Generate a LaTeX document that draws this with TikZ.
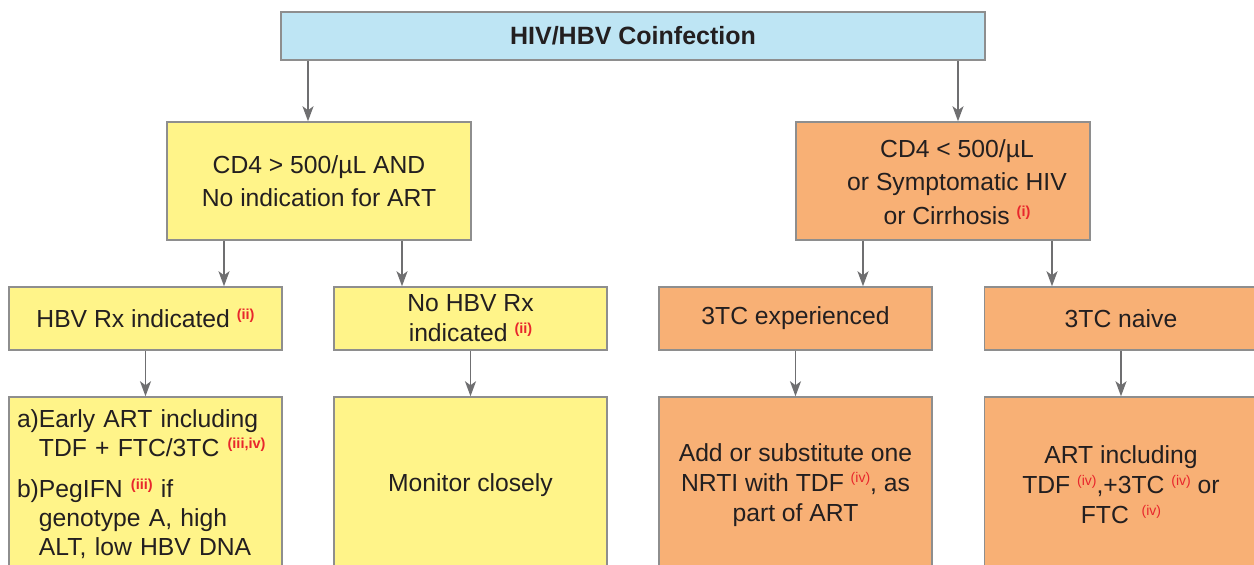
\documentclass[tikz,border=0pt]{standalone}
\usepackage{fontspec}
\setmainfont{Liberation Sans}
\usetikzlibrary{arrows.meta}
\definecolor{boxblue}{HTML}{BEE5F4}
\definecolor{boxyellow}{HTML}{FFF489}
\definecolor{boxorange}{HTML}{F8B075}
\definecolor{edgegray}{HTML}{8E8E8E}
\definecolor{arrgray}{HTML}{6F6F71}
\definecolor{txtdark}{HTML}{231F20}
\definecolor{notered}{HTML}{E8262C}
\newcommand{\rnote}[1]{\raisebox{8pt}{\textcolor{notered}{\fontsize{14.5}{14.5}\selectfont\bfseries #1}}}
\newcommand{\rnotel}[1]{\raisebox{8.5pt}{\textcolor{notered}{\fontsize{14}{14}\selectfont #1}}}
\tikzset{
  basebox/.style={draw=edgegray, line width=1.5pt, inner sep=0pt, text=txtdark,
    font=\fontsize{24.7}{33}\selectfont, align=center},
  bluebox/.style={basebox, fill=boxblue},
  ylbox/.style={basebox, fill=boxyellow},
  orbox/.style={basebox, fill=boxorange},
  rowthree/.style={minimum width=273pt, minimum height=63pt},
  rowfour/.style={minimum width=273pt, minimum height=176pt},
  plaintext/.style={inner sep=0pt, text=txtdark, align=center, font=\fontsize{24.7}{33.5}\selectfont},
  arr/.style={draw=arrgray, line width=1.5pt, -{Stealth[length=15pt,width=11pt,inset=4pt]}}
}
\begin{document}
\begin{tikzpicture}[x=1pt,y=-1pt]
\useasboundingbox (0,0) rectangle (1254,565);
\clip (0,0) rectangle (1254,565);
\fill[white] (0,0) rectangle (1254,565);

\node[bluebox, minimum width=704pt, minimum height=48pt, font=\fontsize{25}{30}\selectfont\bfseries] (top) at (633,36) {HIV/HBV Coinfection};

\node[ylbox, minimum width=304pt, minimum height=118pt] (hi) at (319,181) {CD4 > 500/µL AND\\No indication for ART};
\node[orbox, minimum width=294pt, minimum height=118pt] (lo) at (943,181) {};
\node[plaintext] (lotext) at (957,182) {CD4 < 500/µL\\or Symptomatic HIV\\or Cirrhosis \rnote{(i)}};

\node[ylbox, rowthree] (hbv) at (145.5,318.5) {HBV Rx indicated \rnote{(ii)}};
\node[ylbox, rowthree, font=\fontsize{24.7}{30}\selectfont] (nohbv) at (470.5,318.5) {No HBV Rx\\indicated \rnote{(ii)}};
\node[orbox, rowthree] (exp) at (795.5,318.5) {\raisebox{-1.5pt}{3TC experienced}};
\node[orbox, rowthree] (naive) at (1121,318.5) {\raisebox{-1.5pt}{3TC naive}};

\node[ylbox, rowfour, text width=257pt, align=left, font=\fontsize{24.7}{28.8}\selectfont] (rxa) at (145.5,485) {a)Early ART including\\\phantom{a)}TDF + FTC/3TC \rnote{(iii,iv)}\\[13pt]b)PegIFN \rnote{(iii)} if\\\phantom{a)}genotype A, high\\\phantom{a)}ALT, low HBV DNA};
\node[ylbox, rowfour] (mon) at (470.5,485) {Monitor closely};
\node[orbox, rowfour, font=\fontsize{24.7}{30}\selectfont] (add) at (795.5,485) {Add or substitute one\\NRTI with TDF \rnotel{(iv)}, as\\part of ART};
\node[orbox, rowfour, font=\fontsize{24.7}{30}\selectfont] (art) at (1121,485) {ART including\\TDF \rnotel{(iv)},+3TC \rnotel{(iv)} or\\FTC\hspace{6pt} \rnotel{(iv)}};

\coordinate (c1) at (308,0);
\coordinate (c2) at (958,0);
\coordinate (c3) at (224,0);
\coordinate (c4) at (402,0);
\coordinate (c5) at (863,0);
\coordinate (c6) at (1052,0);

\draw[arr] (top.south -| c1) -- (hi.north -| c1);
\draw[arr] (top.south -| c2) -- (lo.north -| c2);
\draw[arr] (hi.south -| c3) -- (hbv.north -| c3);
\draw[arr] (hi.south -| c4) -- (nohbv.north -| c4);
\draw[arr] (lo.south -| c5) -- (exp.north -| c5);
\draw[arr] (lo.south -| c6) -- (naive.north -| c6);
\draw[arr] (hbv.south) -- (rxa.north);
\draw[arr] (nohbv.south) -- (mon.north);
\draw[arr] (exp.south) -- (add.north);
\draw[arr] (naive.south) -- (art.north);
\end{tikzpicture}
\end{document}
